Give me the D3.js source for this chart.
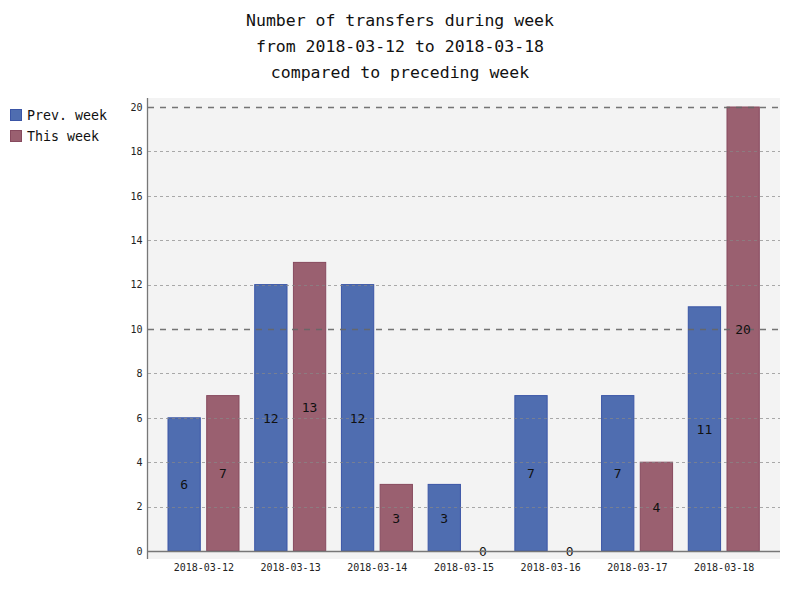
<!DOCTYPE html>
<html><head><meta charset="utf-8">
<script src="https://cdn.jsdelivr.net/npm/d3@7"></script>
<style>body{margin:0;background:#fff}</style>
</head><body>
<script>
const categories = ["2018-03-12","2018-03-13","2018-03-14","2018-03-15","2018-03-16","2018-03-17","2018-03-18"];
const prevWeek = [6,12,12,3,7,7,11];
const thisWeek = [7,13,3,0,0,4,20];
const seriesNames = ["Prev. week","This week"];
const yTicks = [0,2,4,6,8,10,12,14,16,18,20];
const majorTicks = [10,20];
const titleLines = ["Number of transfers during week","from 2018-03-12 to 2018-03-18","compared to preceding week"];

(function(){
const W=800,H=600;
const font="'DejaVu Sans Mono', monospace";
const colors=["#4f6db0","#9a6070"], strokes=["#3a55a6","#874a5e"];
const svg=d3.select("body").append("svg").attr("width",W).attr("height",H);
svg.append("rect").attr("width",W).attr("height",H).attr("fill","#fff");

const pL=148,pR=780,pT=98,pB=559;
svg.append("rect").attr("x",pL).attr("y",pT).attr("width",pR-pL).attr("height",pB-pT).attr("fill","#f3f3f3");

const y=d3.scaleLinear().domain([0,20]).range([551,107]);
const x0=d3.scaleBand().domain(categories).range([160.5,767.5]).paddingInner(0.0).paddingOuter(0);
const x1=d3.scaleBand().domain([0,1]).range([7,79]).paddingInner(0.14);

svg.selectAll("text.title").data(titleLines).enter().append("text")
 .attr("x",400).attr("y",(d,i)=>26+i*26).attr("text-anchor","middle")
 .attr("font-family",font).attr("font-size",16.5).attr("fill","#111").text(d=>d);

const series=[prevWeek,thisWeek];
series.forEach((vals,s)=>{
  svg.selectAll("rect.s"+s).data(vals).enter().append("rect")
   .attr("x",(d,i)=>x0(categories[i])+x1(s)+0.5).attr("width",x1.bandwidth()-1)
   .attr("y",d=>y(d)).attr("height",d=>y(0)-y(d))
   .attr("fill",colors[s]).attr("stroke",strokes[s]).attr("stroke-width",1);
});

svg.selectAll("line.grid").data(yTicks.filter(t=>t>0)).enter().append("line")
 .attr("x1",pL).attr("x2",pR).attr("y1",d=>Math.round(y(d))+0.5).attr("y2",d=>Math.round(y(d))+0.5)
 .attr("stroke",d=>majorTicks.includes(d)?"#666":"#888")
 .attr("stroke-opacity",d=>majorTicks.includes(d)?0.9:0.7)
 .attr("stroke-width",d=>majorTicks.includes(d)?1.3:1)
 .attr("stroke-dasharray",d=>majorTicks.includes(d)?"6,6":"3,3");

series.forEach((vals,s)=>{
  svg.selectAll("text.v"+s).data(vals).enter().append("text")
   .attr("x",(d,i)=>x0(categories[i])+x1(s)+x1.bandwidth()/2)
   .attr("y",d=>y(d/2)+5).attr("text-anchor","middle")
   .attr("font-family",font).attr("font-size",13).attr("fill","#111").text(d=>d);
});

const yAxis=d3.axisLeft(y).tickValues(yTicks).tickSize(0).tickPadding(5);
const gy=svg.append("g").attr("transform",`translate(${pL-0.5},0)`).call(yAxis);
gy.select(".domain").remove();
gy.selectAll("text").attr("font-family",font).attr("font-size",10).attr("fill","#222");
svg.append("line").attr("x1",pL-0.5).attr("x2",pL-0.5).attr("y1",pT).attr("y2",pB).attr("stroke","#777").attr("stroke-width",1.3);
svg.append("line").attr("x1",pL).attr("x2",pR).attr("y1",551.5).attr("y2",551.5).attr("stroke","#777").attr("stroke-width",1.3);

const xAxis=d3.axisBottom(x0).tickSize(0).tickPadding(0);
const gx=svg.append("g").attr("transform",`translate(0,568)`).call(xAxis);
gx.select(".domain").remove();
gx.selectAll("text").attr("font-family",font).attr("font-size",10).attr("fill","#222").attr("dy","0.32em");

const lg=svg.selectAll("g.leg").data(seriesNames).enter().append("g").attr("transform",(d,i)=>`translate(10,${109+i*21})`);
lg.append("rect").attr("x",0.5).attr("y",0.5).attr("width",11).attr("height",11).attr("fill",(d,i)=>colors[i]).attr("stroke",(d,i)=>strokes[i]);
lg.append("text").attr("x",17).attr("y",11).attr("font-family",font).attr("font-size",13.3).attr("fill","#111").text(d=>d);
})();
</script>
</body></html>
